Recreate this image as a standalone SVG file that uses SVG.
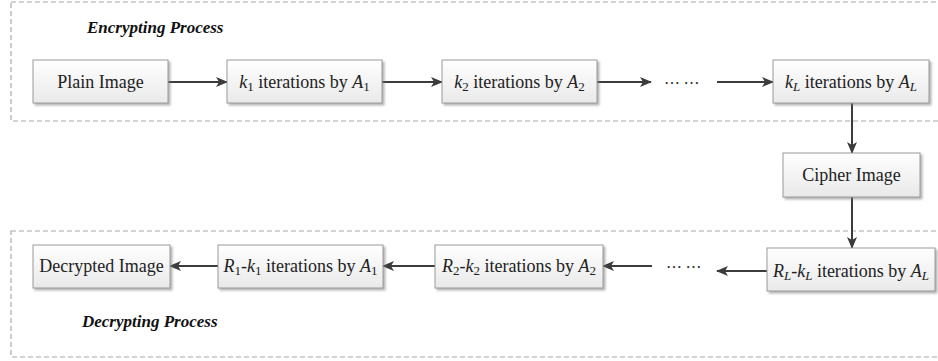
<svg xmlns="http://www.w3.org/2000/svg" width="938" height="361" viewBox="0 0 938 361">
<style>
.frame{fill:none;stroke:#a8a8a8;stroke-width:1.2;stroke-dasharray:5 3}
.box{fill:url(#g);stroke:#9a9a9a;stroke-width:1;filter:url(#sh)}
.t{font-family:"Liberation Serif","Times New Roman",serif;font-size:18px;fill:#222;text-anchor:middle}
.i{font-style:italic}
.s{font-size:13px}
.title{font-family:"Liberation Serif","Times New Roman",serif;font-size:17px;font-weight:bold;font-style:italic;fill:#111}
.dots{font-family:"Noto Sans CJK SC",sans-serif;font-size:16px;fill:#333}
.c{stroke:#3c3c3c;stroke-width:2;fill:none;marker-end:url(#ah)}
</style>
<defs>
<linearGradient id="g" x1="0" y1="0" x2="0" y2="1">
<stop offset="0" stop-color="#ffffff"/>
<stop offset="1" stop-color="#e9e9e9"/>
</linearGradient>
<filter id="sh" x="-10%" y="-20%" width="130%" height="150%">
<feDropShadow dx="2" dy="2" stdDeviation="1.2" flood-color="#777" flood-opacity="0.55"/>
</filter>
<marker id="ah" markerWidth="12" markerHeight="10" refX="11" refY="5" orient="auto" markerUnits="userSpaceOnUse">
<path d="M0,0 L12,5 L0,10 L3,5 Z" fill="#3c3c3c"/>
</marker>
</defs>

<g id="encrypting-frame">
<rect class="frame" x="11" y="2" width="940" height="119"/>
<text class="title" x="87" y="33">Encrypting Process</text>
</g>
<g id="decrypting-frame">
<rect class="frame" x="11" y="231" width="940" height="126"/>
<text class="title" x="82" y="327">Decrypting Process</text>
</g>

<g id="connectors">
<line class="c" x1="168" y1="82" x2="227" y2="82"/>
<line class="c" x1="382" y1="82" x2="442" y2="82"/>
<line class="c" x1="597" y1="82" x2="651" y2="82"/>
<line class="c" x1="717" y1="82" x2="773" y2="82"/>
<line class="c" x1="852" y1="103" x2="852" y2="153"/>
<line class="c" x1="852" y1="197" x2="852" y2="248"/>
<line class="c" x1="767" y1="271" x2="717" y2="271"/>
<line class="c" x1="652" y1="266" x2="603" y2="266"/>
<line class="c" x1="435" y1="266" x2="383" y2="266"/>
<line class="c" x1="218" y1="266" x2="170" y2="266"/>
</g>

<g id="plain-image">
<rect class="box" x="33" y="60" width="135" height="43"/>
<text class="t" x="100.5" y="88">Plain Image</text>
</g>
<g id="k1">
<rect class="box" x="227" y="60" width="155" height="43"/>
<text class="t" x="304.5" y="88"><tspan class="i">k</tspan><tspan class="s" dy="3">1</tspan><tspan dy="-3"> iterations by </tspan><tspan class="i">A</tspan><tspan class="s" dy="3">1</tspan></text>
</g>
<g id="k2">
<rect class="box" x="442" y="60" width="155" height="43"/>
<text class="t" x="519.5" y="88"><tspan class="i">k</tspan><tspan class="s" dy="3">2</tspan><tspan dy="-3"> iterations by </tspan><tspan class="i">A</tspan><tspan class="s" dy="3">2</tspan></text>
</g>
<g id="dots-top">
<text class="dots" x="664" y="89">… …</text>
</g>
<g id="kL">
<rect class="box" x="773" y="60" width="156" height="43"/>
<text class="t" x="851" y="88"><tspan class="i">k</tspan><tspan class="s i" dy="3">L</tspan><tspan dy="-3"> iterations by </tspan><tspan class="i">A</tspan><tspan class="s i" dy="3">L</tspan></text>
</g>
<g id="cipher-image">
<rect class="box" x="783" y="153" width="137" height="44"/>
<text class="t" x="851.5" y="181">Cipher Image</text>
</g>
<g id="RL">
<rect class="box" x="767" y="248" width="168" height="43"/>
<text class="t" x="851" y="277"><tspan class="i">R</tspan><tspan class="s i" dy="3">L</tspan><tspan dy="-3">-</tspan><tspan class="i">k</tspan><tspan class="s i" dy="3">L</tspan><tspan dy="-3"> iterations by </tspan><tspan class="i">A</tspan><tspan class="s i" dy="3">L</tspan></text>
</g>
<g id="dots-bottom">
<text class="dots" x="666" y="273">… …</text>
</g>
<g id="R2">
<rect class="box" x="435" y="245" width="168" height="43"/>
<text class="t" x="519" y="272"><tspan class="i">R</tspan><tspan class="s" dy="3">2</tspan><tspan dy="-3">-</tspan><tspan class="i">k</tspan><tspan class="s" dy="3">2</tspan><tspan dy="-3"> iterations by </tspan><tspan class="i">A</tspan><tspan class="s" dy="3">2</tspan></text>
</g>
<g id="R1">
<rect class="box" x="218" y="245" width="165" height="43"/>
<text class="t" x="300.5" y="272"><tspan class="i">R</tspan><tspan class="s" dy="3">1</tspan><tspan dy="-3">-</tspan><tspan class="i">k</tspan><tspan class="s" dy="3">1</tspan><tspan dy="-3"> iterations by </tspan><tspan class="i">A</tspan><tspan class="s" dy="3">1</tspan></text>
</g>
<g id="decrypted-image">
<rect class="box" x="33" y="245" width="137" height="43"/>
<text class="t" x="101.5" y="272">Decrypted Image</text>
</g>
</svg>
